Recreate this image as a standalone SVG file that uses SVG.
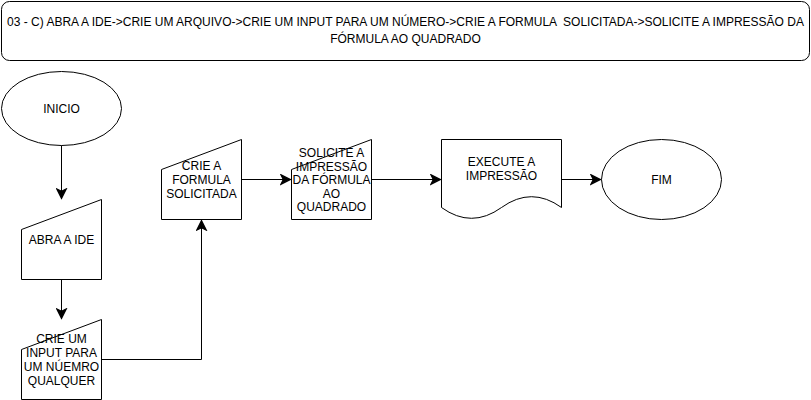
<svg xmlns="http://www.w3.org/2000/svg" width="811" height="400" viewBox="0 0 811 400">
<style>
.s{fill:#fff;stroke:#000;stroke-width:1}
.t{font-family:"Liberation Sans",Arial,sans-serif;font-size:12px;fill:#000;text-anchor:middle}
.c{fill:none;stroke:#000;stroke-width:1}
</style>
<defs>
<marker id="a" markerUnits="userSpaceOnUse" markerWidth="12" markerHeight="12" viewBox="-9 -5 10 10" refX="0" refY="0" orient="auto">
<path d="M0,0 L-8,-4 L-6,0 L-8,4 Z" fill="#000" stroke="#000" stroke-width="1"/>
</marker>
</defs>
<rect width="811" height="400" fill="#fff"/>
<g id="title">
<rect class="s" x="1.5" y="1.5" width="808" height="59" rx="8" ry="8"/>
<text class="t" xml:space="preserve"><tspan x="405.5" y="26">03 - C) ABRA A IDE-&gt;CRIE UM ARQUIVO-&gt;CRIE UM INPUT PARA UM NÚMERO-&gt;CRIE A FORMULA  SOLICITADA-&gt;SOLICITE A IMPRESSÃO DA</tspan><tspan x="405.5" y="43">FÓRMULA AO QUADRADO</tspan></text>
</g>
<g id="inicio">
<ellipse class="s" cx="61.5" cy="108.5" rx="60" ry="37"/>
<text class="t" x="61.5" y="113">INICIO</text>
</g>
<g id="abra">
<path class="s" d="M21.5,229.5 L101.5,199.5 L101.5,279.5 L21.5,279.5 Z"/>
<text class="t" x="61.5" y="244">ABRA A IDE</text>
</g>
<g id="input">
<path class="s" d="M21.5,349.5 L101.5,319.5 L101.5,399.5 L21.5,399.5 Z"/>
<text class="t"><tspan x="61.5" y="343">CRIE UM</tspan><tspan x="61.5" y="357">INPUT PARA</tspan><tspan x="61.5" y="371">UM NÚEMRO</tspan><tspan x="61.5" y="385">QUALQUER</tspan></text>
</g>
<g id="formula">
<path class="s" d="M161.5,169.5 L241.5,139.5 L241.5,219.5 L161.5,219.5 Z"/>
<text class="t"><tspan x="201.5" y="170">CRIE A</tspan><tspan x="201.5" y="184">FORMULA</tspan><tspan x="201.5" y="198">SOLICITADA</tspan></text>
</g>
<g id="solicite">
<path class="s" d="M291.5,169.5 L371.5,139.5 L371.5,219.5 L291.5,219.5 Z"/>
<text class="t"><tspan x="331.5" y="157">SOLICITE A</tspan><tspan x="331.5" y="170.5">IMPRESSÃO</tspan><tspan x="331.5" y="184">DA FÓRMULA</tspan><tspan x="331.5" y="197.5">AO</tspan><tspan x="331.5" y="211">QUADRADO</tspan></text>
</g>
<g id="execute">
<path class="s" d="M441.5,139.5 L561.5,139.5 L561.5,207.5 Q531.5,185.9 501.5,207.5 Q471.5,229.1 441.5,207.5 Z"/>
<text class="t"><tspan x="501.5" y="166">EXECUTE A</tspan><tspan x="501.5" y="180">IMPRESSÃO</tspan></text>
</g>
<g id="fim">
<ellipse class="s" cx="661.5" cy="179.5" rx="60" ry="40"/>
<text class="t" x="661.5" y="184">FIM</text>
</g>
<g id="connectors">
<path class="c" d="M61.5,145.5 L61.5,198.5" marker-end="url(#a)"/>
<path class="c" d="M61.5,279.5 L61.5,318.5" marker-end="url(#a)"/>
<path class="c" d="M101.5,359.5 L201.5,359.5 L201.5,220.5" marker-end="url(#a)"/>
<path class="c" d="M241.5,179.5 L290.5,179.5" marker-end="url(#a)"/>
<path class="c" d="M371.5,179.5 L440.5,179.5" marker-end="url(#a)"/>
<path class="c" d="M561.5,179.5 L600.5,179.5" marker-end="url(#a)"/>
</g>
</svg>
